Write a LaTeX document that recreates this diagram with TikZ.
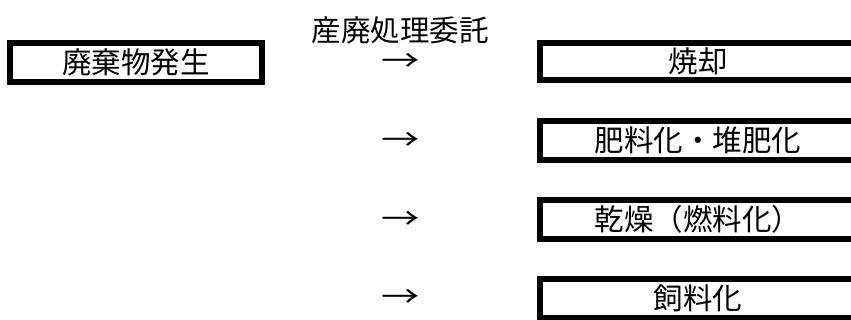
\documentclass[tikz,border=0pt]{standalone}
\usepackage{fontspec}
\newfontfamily\cjk{Noto Sans CJK JP}
\begin{document}
\begin{tikzpicture}[x=1pt,y=1pt,
  procbox/.style={draw=black,line width=6pt,rectangle,inner sep=0pt,font=\cjk\fontsize{29.5}{31}\selectfont},
  txt/.style={inner sep=0pt,font=\cjk\fontsize{29.5}{31}\selectfont},
  arr/.style={inner sep=0pt,font=\cjk\fontsize{29.5}{31}\selectfont,xscale=1.3,transform shape}]
\useasboundingbox (0,0) rectangle (851,320);
\node[procbox,minimum width=252pt,minimum height=39pt] (gen) at (136,257.5) {廃棄物発生};
\node[txt] (lbl) at (400,290) {産廃処理委託};
\node[procbox,minimum width=316pt,minimum height=37pt] (b1) at (698,258.5) {焼却};
\node[procbox,minimum width=316pt,minimum height=39pt] (b2) at (698,179.5) {肥料化・堆肥化};
\node[procbox,minimum width=316pt,minimum height=39pt] (b3) at (698,100.5) {乾燥（燃料化）};
\node[procbox,minimum width=316pt,minimum height=39pt] (b4) at (698,21.5) {飼料化};
\node[arr] (a1) at (401,257.5) {→};
\node[arr] (a2) at (401,178.5) {→};
\node[arr] (a3) at (401,100) {→};
\node[arr] (a4) at (401,22) {→};
\end{tikzpicture}
\end{document}
